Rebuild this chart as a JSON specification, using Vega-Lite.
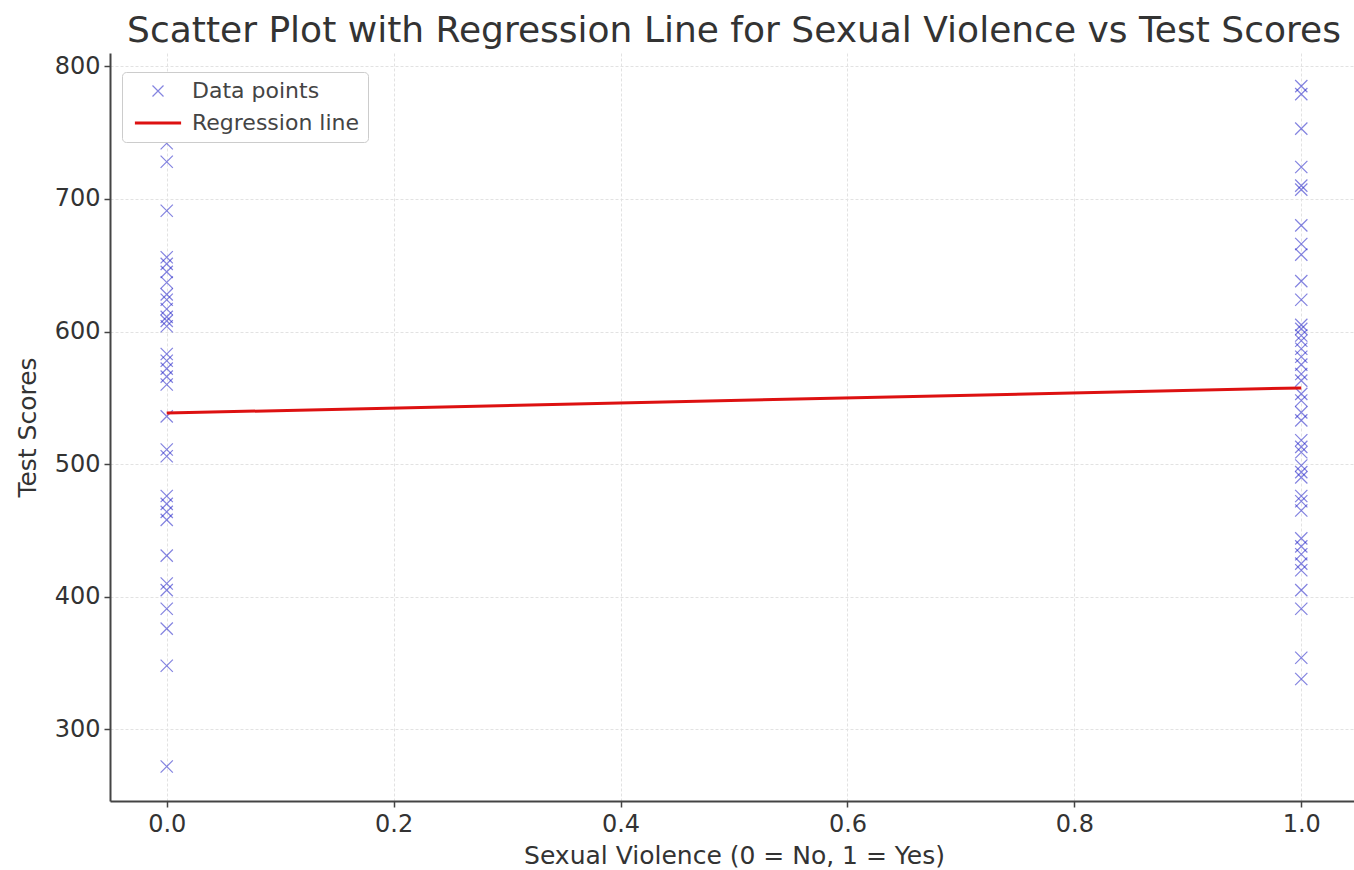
{
  "$schema": "https://vega.github.io/schema/vega-lite/v6.json",
  "autosize": {"type": "none"},
  "width": 1248,
  "height": 748,
  "padding": {"left": 110, "top": 53, "right": 0, "bottom": 69},
  "background": "white",
  "title": {"text": "Scatter Plot with Regression Line for Sexual Violence vs Test Scores", "font": "DejaVu Sans", "fontSize": 36, "fontWeight": "normal", "color": "#333333", "offset": 3, "anchor": "middle"},
  "config": {
    "font": "DejaVu Sans",
    "view": {"stroke": null},
    "axis": {"labelFont": "DejaVu Sans", "titleFont": "DejaVu Sans", "labelFontSize": 24, "titleFontSize": 25, "titleFontWeight": "normal", "labelColor": "#333333", "titleColor": "#333333", "domainColor": "#444444", "domainWidth": 2, "tickColor": "#444444", "tickSize": 6, "tickWidth": 1.5, "gridColor": "#e2e2e2", "gridWidth": 1, "gridDash": [3, 2]}
  },
  "datasets": {
    "pts": [
      {"sv": 0, "score": 742, "series": "Data points"},
      {"sv": 0, "score": 728, "series": "Data points"},
      {"sv": 0, "score": 691, "series": "Data points"},
      {"sv": 0, "score": 656, "series": "Data points"},
      {"sv": 0, "score": 651, "series": "Data points"},
      {"sv": 0, "score": 645, "series": "Data points"},
      {"sv": 0, "score": 637, "series": "Data points"},
      {"sv": 0, "score": 628, "series": "Data points"},
      {"sv": 0, "score": 624, "series": "Data points"},
      {"sv": 0, "score": 617, "series": "Data points"},
      {"sv": 0, "score": 611, "series": "Data points"},
      {"sv": 0, "score": 608, "series": "Data points"},
      {"sv": 0, "score": 604, "series": "Data points"},
      {"sv": 0, "score": 583, "series": "Data points"},
      {"sv": 0, "score": 578, "series": "Data points"},
      {"sv": 0, "score": 572, "series": "Data points"},
      {"sv": 0, "score": 566, "series": "Data points"},
      {"sv": 0, "score": 560, "series": "Data points"},
      {"sv": 0, "score": 536, "series": "Data points"},
      {"sv": 0, "score": 511, "series": "Data points"},
      {"sv": 0, "score": 506, "series": "Data points"},
      {"sv": 0, "score": 476, "series": "Data points"},
      {"sv": 0, "score": 470, "series": "Data points"},
      {"sv": 0, "score": 464, "series": "Data points"},
      {"sv": 0, "score": 458, "series": "Data points"},
      {"sv": 0, "score": 431, "series": "Data points"},
      {"sv": 0, "score": 410, "series": "Data points"},
      {"sv": 0, "score": 405, "series": "Data points"},
      {"sv": 0, "score": 391, "series": "Data points"},
      {"sv": 0, "score": 376, "series": "Data points"},
      {"sv": 0, "score": 348, "series": "Data points"},
      {"sv": 0, "score": 272, "series": "Data points"},
      {"sv": 1, "score": 785, "series": "Data points"},
      {"sv": 1, "score": 779, "series": "Data points"},
      {"sv": 1, "score": 753, "series": "Data points"},
      {"sv": 1, "score": 724, "series": "Data points"},
      {"sv": 1, "score": 710, "series": "Data points"},
      {"sv": 1, "score": 707, "series": "Data points"},
      {"sv": 1, "score": 680, "series": "Data points"},
      {"sv": 1, "score": 666, "series": "Data points"},
      {"sv": 1, "score": 658, "series": "Data points"},
      {"sv": 1, "score": 638, "series": "Data points"},
      {"sv": 1, "score": 624, "series": "Data points"},
      {"sv": 1, "score": 605, "series": "Data points"},
      {"sv": 1, "score": 602, "series": "Data points"},
      {"sv": 1, "score": 597, "series": "Data points"},
      {"sv": 1, "score": 593, "series": "Data points"},
      {"sv": 1, "score": 587, "series": "Data points"},
      {"sv": 1, "score": 581, "series": "Data points"},
      {"sv": 1, "score": 575, "series": "Data points"},
      {"sv": 1, "score": 568, "series": "Data points"},
      {"sv": 1, "score": 563, "series": "Data points"},
      {"sv": 1, "score": 553, "series": "Data points"},
      {"sv": 1, "score": 548, "series": "Data points"},
      {"sv": 1, "score": 539, "series": "Data points"},
      {"sv": 1, "score": 533, "series": "Data points"},
      {"sv": 1, "score": 518, "series": "Data points"},
      {"sv": 1, "score": 513, "series": "Data points"},
      {"sv": 1, "score": 509, "series": "Data points"},
      {"sv": 1, "score": 499, "series": "Data points"},
      {"sv": 1, "score": 494, "series": "Data points"},
      {"sv": 1, "score": 490, "series": "Data points"},
      {"sv": 1, "score": 476, "series": "Data points"},
      {"sv": 1, "score": 472, "series": "Data points"},
      {"sv": 1, "score": 465, "series": "Data points"},
      {"sv": 1, "score": 444, "series": "Data points"},
      {"sv": 1, "score": 438, "series": "Data points"},
      {"sv": 1, "score": 432, "series": "Data points"},
      {"sv": 1, "score": 425, "series": "Data points"},
      {"sv": 1, "score": 420, "series": "Data points"},
      {"sv": 1, "score": 405, "series": "Data points"},
      {"sv": 1, "score": 391, "series": "Data points"},
      {"sv": 1, "score": 354, "series": "Data points"},
      {"sv": 1, "score": 338, "series": "Data points"}
    ],
    "reg": [
      {"sv": 0, "score": 538.5, "series": "Regression line"},
      {"sv": 1, "score": 557.5, "series": "Regression line"}
    ]
  },
  "encoding": {
    "x": {"field": "sv", "type": "quantitative", "title": "Sexual Violence (0 = No, 1 = Yes)", "scale": {"domain": [-0.05, 1.05], "nice": false, "zero": false}, "axis": {"values": [0, 0.2, 0.4, 0.6, 0.8, 1.0], "format": ".1f", "labelPadding": 5, "titleY": 42, "titleBaseline": "top"}},
    "y": {"field": "score", "type": "quantitative", "title": "Test Scores", "scale": {"domain": [246, 810], "nice": false, "zero": false}, "axis": {"values": [300, 400, 500, 600, 700, 800], "labelPadding": 4, "titleX": -70}},
    "color": {"field": "series", "type": "nominal", "scale": {"domain": ["Data points", "Regression line"], "range": ["#2020c8", "#dd1111"]}, "legend": {"title": null, "orient": "none", "legendX": 12, "legendY": 19, "fillColor": "white", "strokeColor": "#cccccc", "cornerRadius": 4, "padding": 8, "labelFontSize": 22, "labelColor": "#444444", "labelLimit": 400, "symbolSize": 121, "symbolOffset": 17, "labelOffset": 23, "rowPadding": 10}},
    "strokeWidth": {"field": "series", "type": "nominal", "scale": {"domain": ["Data points", "Regression line"], "range": [1.2, 3]}, "legend": {"title": null, "orient": "none", "legendX": 12, "legendY": 19}},
    "opacity": {"field": "series", "type": "nominal", "scale": {"domain": ["Data points", "Regression line"], "range": [0.55, 1]}, "legend": {"title": null, "orient": "none", "legendX": 12, "legendY": 19}}
  },
  "layer": [
    {
      "data": {"name": "pts"},
      "mark": {"type": "point", "filled": false, "size": 150},
      "encoding": {
        "shape": {"field": "series", "type": "nominal", "scale": {"domain": ["Data points", "Regression line"], "range": ["M-1,-1L1,1M-1,1L1,-1", "M-4.2,0L4.2,0"]}, "legend": {"title": null, "orient": "none", "legendX": 12, "legendY": 19}}
      }
    },
    {
      "data": {"name": "reg"},
      "mark": {"type": "line"}
    }
  ]
}
